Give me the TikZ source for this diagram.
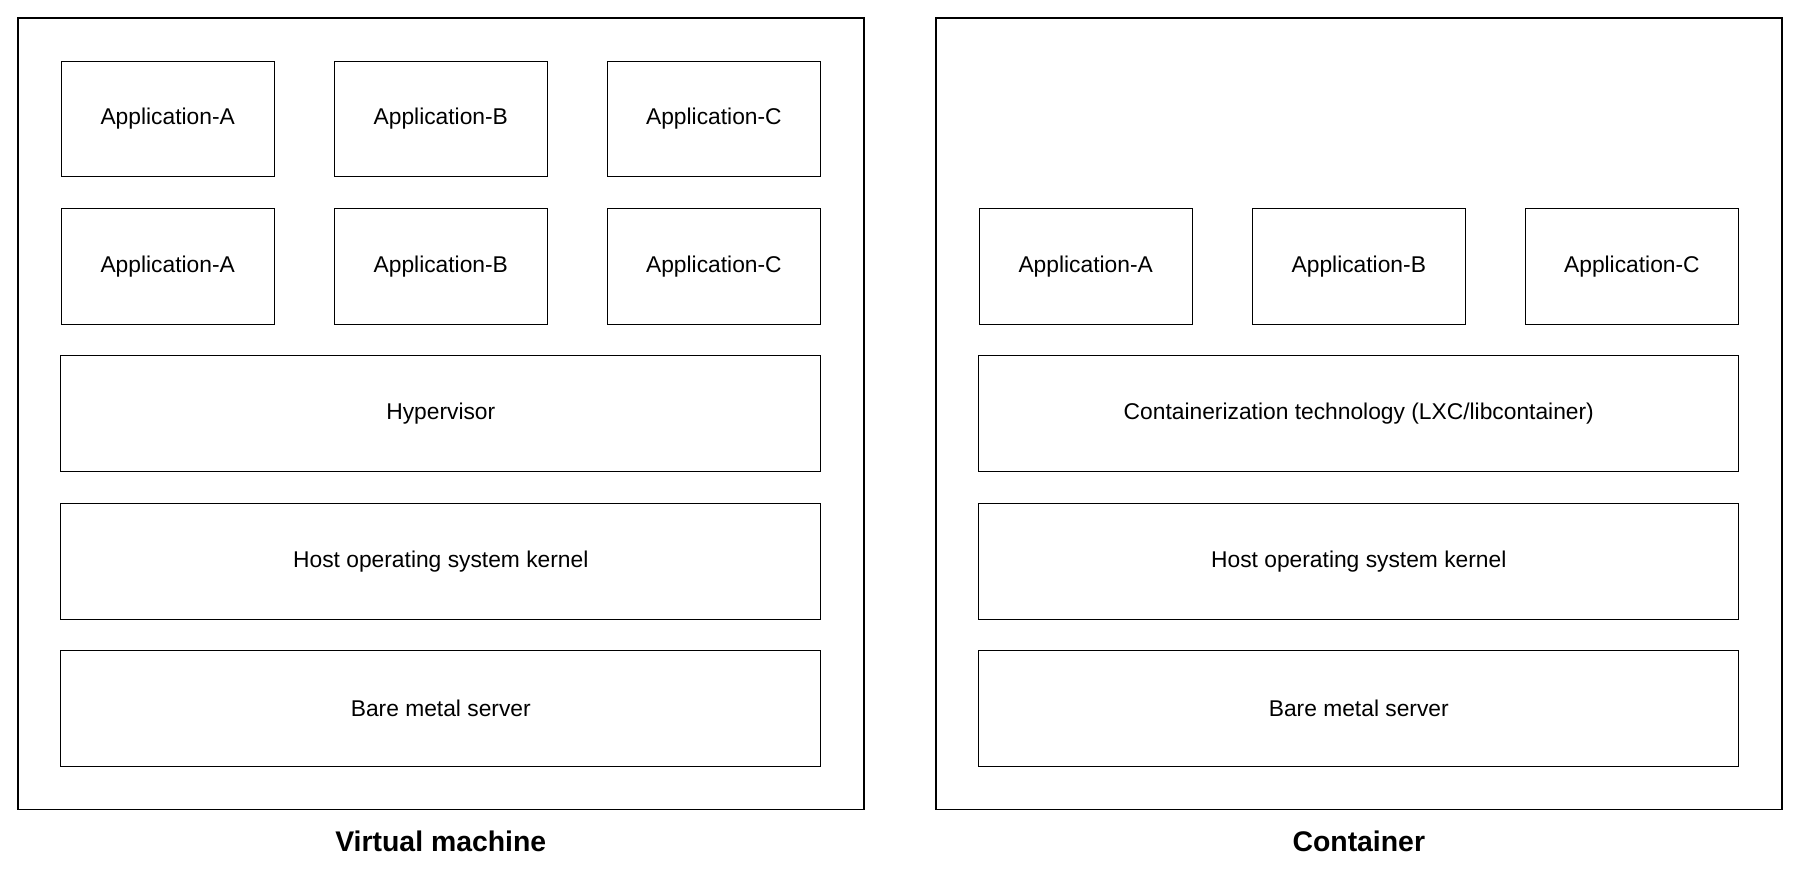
\documentclass[tikz,border=0pt]{standalone}
\usepackage{fontspec}
\setmainfont{Liberation Sans}
\usetikzlibrary{fit,
                positioning}

\begin{document}
\begin{tikzpicture}[x=0.5pt, y=-0.5pt,
node distance = 15.8pt and 29.85pt,
   APP/.style = {draw, line width=0.5pt, minimum width=106.7pt,
                 minimum height=57.9pt, inner sep=0pt, outer sep=0pt,
                 font=\fontsize{11.4}{13}\selectfont},
 LAYER/.style = {APP, minimum width=380pt},  % full width layer
 FRAME/.style = {draw, line width=0.85pt, inner sep=21.5pt},
 TITLE/.style = {font=\fontsize{14.2}{16}\selectfont\bfseries, anchor=base}
                        ]
\useasboundingbox (0,0) rectangle (1800,873);
% virtual machine
\node (a1) [APP, anchor=north west] at (61,61) {Application-A};
\node (b1) [APP, right=of a1] {Application-B};
\node (c1) [APP, right=of b1] {Application-C};
\node (a2) [APP, below=of a1] {Application-A};
\node (b2) [APP, below=of b1] {Application-B};
\node (c2) [APP, below=of c1] {Application-C};
\node (hyp)  [LAYER, below=of b2]   {Hypervisor};
\node (host) [LAYER, below=of hyp]  {Host operating system kernel};
\node (bare) [LAYER, below=of host] {Bare metal server};
\node (vm) [FRAME, fit=(a1)(bare)] {};
\node (vmt) [TITLE] at ([yshift=-20.5pt]vm.south) {Virtual machine};
% container
\coordinate (ct) at ([xshift=459pt]a1.north west);
\node (ca) [APP, anchor=north west] at ([xshift=459pt]a2.north west) {Application-A};
\node (cb) [APP, right=of ca] {Application-B};
\node (cc) [APP, right=of cb] {Application-C};
\node (tech)  [LAYER, below=of cb]    {Containerization technology (LXC/libcontainer)};
\node (chost) [LAYER, below=of tech]  {Host operating system kernel};
\node (cbare) [LAYER, below=of chost] {Bare metal server};
\node (ctr) [FRAME, fit=(ct)(cbare)] {};
\node (ctrt) [TITLE] at ([yshift=-20.5pt]ctr.south) {Container};
\end{tikzpicture}
\end{document}
